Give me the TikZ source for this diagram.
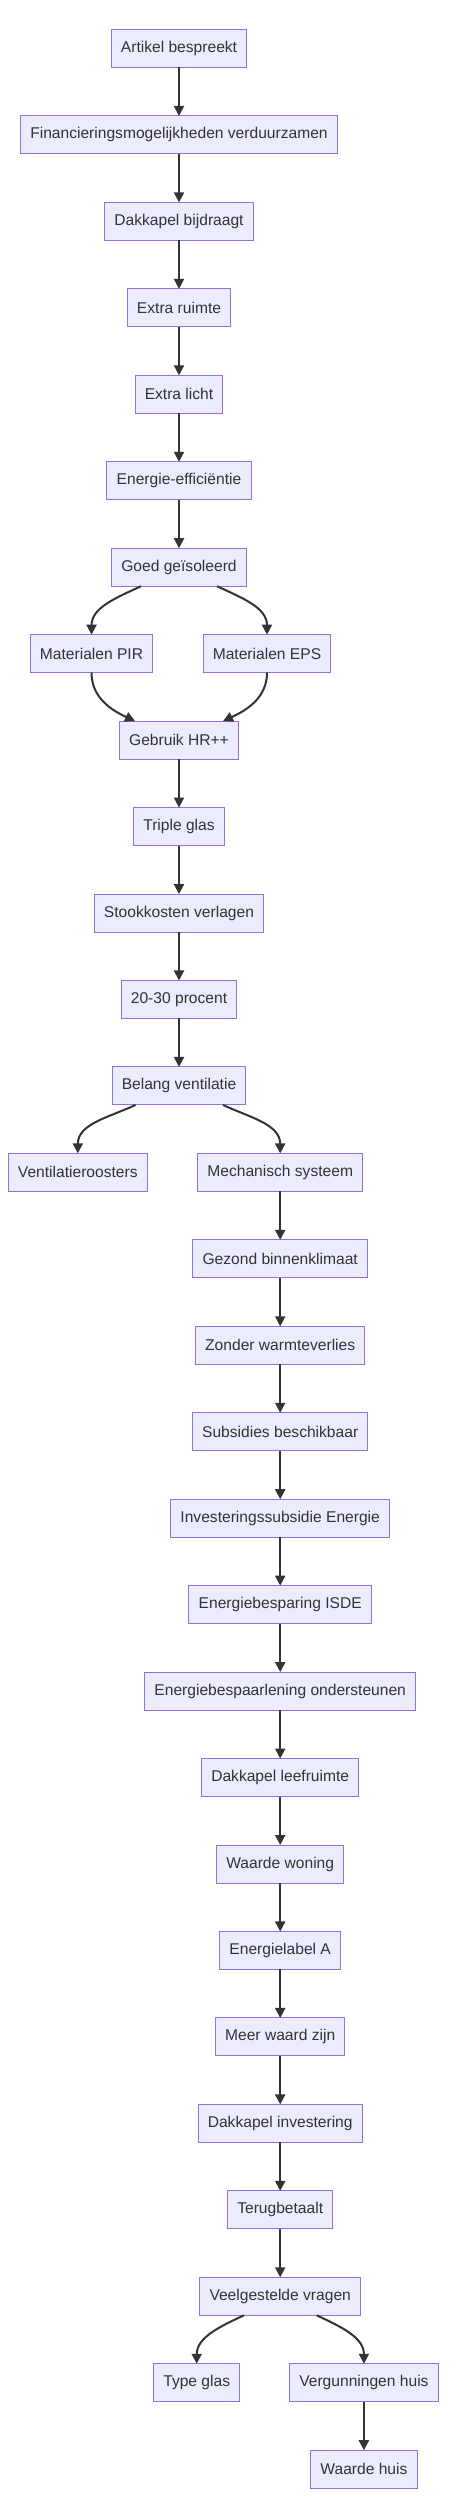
\documentclass[tikz,border=0pt]{standalone}
\usepackage{fontspec}
\setmainfont{Liberation Sans}
\usepackage{xcolor}
\usepackage{tikz}
\usetikzlibrary{positioning,arrows.meta}
\definecolor{boxfill}{HTML}{ECECFF}
\definecolor{boxline}{HTML}{9370DB}
\definecolor{ink}{HTML}{333333}

\begin{document}
\begin{tikzpicture}[
  x=0.75pt, y=-0.75pt,
  node distance=36.34pt and 0pt,
  box/.style={draw=boxline, fill=boxfill, line width=0.75pt, outer sep=0pt, minimum height=28.5pt, inner xsep=7.3pt, inner ysep=0pt, font=\fontsize{11.7}{14}\selectfont, text=ink},
  arr/.style={-{Triangle[length=7.5pt,width=7.5pt]}, line width=1.5pt, ink},
]
\useasboundingbox (0,0) rectangle (455,2518);

% Top chain
\node[box] (artikel) at (179,48.5) {Artikel bespreekt};
\node[box, below=of artikel] (financiering) {Financieringsmogelijkheden verduurzamen};
\node[box, below=of financiering] (bijdraagt) {Dakkapel bijdraagt};
\node[box, below=of bijdraagt] (ruimte) {Extra ruimte};
\node[box, below=of ruimte] (licht) {Extra licht};
\node[box, below=of licht] (efficientie) {Energie-efficiëntie};
\node[box, below=of efficientie] (geisoleerd) {Goed geïsoleerd};

% Insulation materials
\node[box, below=of geisoleerd, xshift=-65.6pt] (pir) {Materialen PIR};
\node[box, below=of geisoleerd, xshift=66pt] (eps) {Materialen EPS};
\node[box, below=of pir, xshift=65.6pt] (hrglas) {Gebruik HR++};
\node[box, below=of hrglas] (triple) {Triple glas};
\node[box, below=of triple] (stookkosten) {Stookkosten verlagen};
\node[box, below=of stookkosten] (procent) {20-30 procent};
\node[box, below=of procent] (ventilatie) {Belang ventilatie};

% Ventilation
\node[box, below=of ventilatie, xshift=-75.9pt] (roosters) {Ventilatieroosters};
\node[box, below=of ventilatie, xshift=75.9pt] (mechanisch) {Mechanisch systeem};

% Right chain
\node[box, below=of mechanisch] (klimaat) {Gezond binnenklimaat};
\node[box, below=of klimaat] (warmte) {Zonder warmteverlies};
\node[box, below=of warmte] (subsidies) {Subsidies beschikbaar};
\node[box, below=of subsidies] (isubsidie) {Investeringssubsidie Energie};
\node[box, below=of isubsidie] (isde) {Energiebesparing ISDE};
\node[box, below=of isde] (lening) {Energiebespaarlening ondersteunen};
\node[box, below=of lening] (leefruimte) {Dakkapel leefruimte};
\node[box, below=of leefruimte] (woning) {Waarde woning};
\node[box, below=of woning] (label) {Energielabel A};
\node[box, below=of label] (meerwaard) {Meer waard zijn};
\node[box, below=of meerwaard] (investering) {Dakkapel investering};
\node[box, below=of investering] (terug) {Terugbetaalt};
\node[box, below=of terug] (vragen) {Veelgestelde vragen};

% FAQ
\node[box, below=of vragen, xshift=-62.6pt] (glas) {Type glas};
\node[box, below=of vragen, xshift=62.8pt] (vergunning) {Vergunningen huis};
\node[box, below=of vergunning] (waarde) {Waarde huis};

% Straight flow
\draw[arr] (artikel) -- (financiering);
\draw[arr] (financiering) -- (bijdraagt);
\draw[arr] (bijdraagt) -- (ruimte);
\draw[arr] (ruimte) -- (licht);
\draw[arr] (licht) -- (efficientie);
\draw[arr] (efficientie) -- (geisoleerd);
\draw[arr] (hrglas) -- (triple);
\draw[arr] (triple) -- (stookkosten);
\draw[arr] (stookkosten) -- (procent);
\draw[arr] (procent) -- (ventilatie);
\draw[arr] (mechanisch) -- (klimaat);
\draw[arr] (klimaat) -- (warmte);
\draw[arr] (warmte) -- (subsidies);
\draw[arr] (subsidies) -- (isubsidie);
\draw[arr] (isubsidie) -- (isde);
\draw[arr] (isde) -- (lening);
\draw[arr] (lening) -- (leefruimte);
\draw[arr] (leefruimte) -- (woning);
\draw[arr] (woning) -- (label);
\draw[arr] (label) -- (meerwaard);
\draw[arr] (meerwaard) -- (investering);
\draw[arr] (investering) -- (terug);
\draw[arr] (terug) -- (vragen);
\draw[arr] (vergunning) -- (waarde);

% Branches
\draw[arr] ([xshift=-28.5pt]geisoleerd.south) to[out=205, in=90] (pir.north);
\draw[arr] ([xshift=28.5pt]geisoleerd.south) to[out=-25, in=90] (eps.north);
\draw[arr] (pir.south) to[out=-90, in=155] ([xshift=-33pt]hrglas.north);
\draw[arr] (eps.south) to[out=-90, in=25] ([xshift=33pt]hrglas.north);
\draw[arr] ([xshift=-32.6pt]ventilatie.south) to[out=205, in=90] (roosters.north);
\draw[arr] ([xshift=33pt]ventilatie.south) to[out=-25, in=90] (mechanisch.north);
\draw[arr] ([xshift=-27.2pt]vragen.south) to[out=205, in=90] (glas.north);
\draw[arr] ([xshift=27.3pt]vragen.south) to[out=-25, in=90] (vergunning.north);
\end{tikzpicture}
\end{document}
